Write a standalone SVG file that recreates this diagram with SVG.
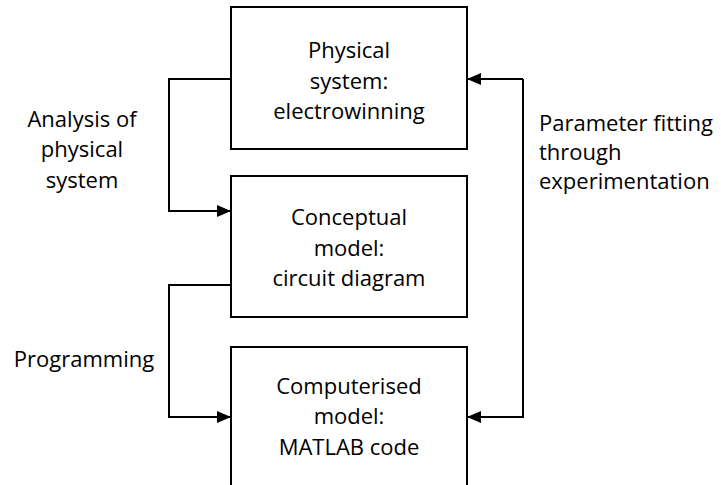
<svg xmlns="http://www.w3.org/2000/svg" width="721" height="485" viewBox="0 0 721 485">
  <style>
    .box { fill: #ffffff; stroke: #000000; stroke-width: 2; }
    .wire { fill: none; stroke: #000000; stroke-width: 2; }
    text { font-family: "Open Sans", "Noto Sans", "Liberation Sans", sans-serif; font-size: 22px; fill: #000000; }
    .c { text-anchor: middle; }
  </style>
  <defs>
    <marker id="arrow" markerWidth="14" markerHeight="12" refX="14" refY="6" orient="auto" markerUnits="userSpaceOnUse">
      <path d="M0,0 L14,6 L0,12 Z" fill="#000000"/>
    </marker>
  </defs>

  <g id="connectors">
    <path class="wire" d="M231,79 H169 V211 H231" marker-end="url(#arrow)"/>
    <path class="wire" d="M231,285 H169 V417 H231" marker-end="url(#arrow)"/>
    <path class="wire" d="M523,79 V417 H467" marker-end="url(#arrow)"/>
    <path class="wire" d="M523,79 H467" marker-end="url(#arrow)"/>
  </g>

  <g id="physical-system">
    <rect class="box" x="231" y="7" width="236" height="142"/>
    <text class="c" x="349" y="58">Physical</text>
    <text class="c" x="349" y="89">system:</text>
    <text class="c" x="349" y="119">electrowinning</text>
  </g>

  <g id="conceptual-model">
    <rect class="box" x="231" y="176" width="236" height="141"/>
    <text class="c" x="349" y="225">Conceptual</text>
    <text class="c" x="349" y="256">model:</text>
    <text class="c" x="349" y="286">circuit diagram</text>
  </g>

  <g id="computerised-model">
    <rect class="box" x="231" y="347" width="236" height="150"/>
    <text class="c" x="349" y="394">Computerised</text>
    <text class="c" x="349" y="424">model:</text>
    <text class="c" x="349" y="455">MATLAB code</text>
  </g>

  <g id="labels">
    <text class="c" x="82" y="127">Analysis of</text>
    <text class="c" x="82" y="157">physical</text>
    <text class="c" x="82" y="188">system</text>
    <text class="c" x="84" y="367">Programming</text>
    <text x="539" y="131">Parameter fitting</text>
    <text x="539" y="160">through</text>
    <text x="539" y="189">experimentation</text>
  </g>
</svg>
